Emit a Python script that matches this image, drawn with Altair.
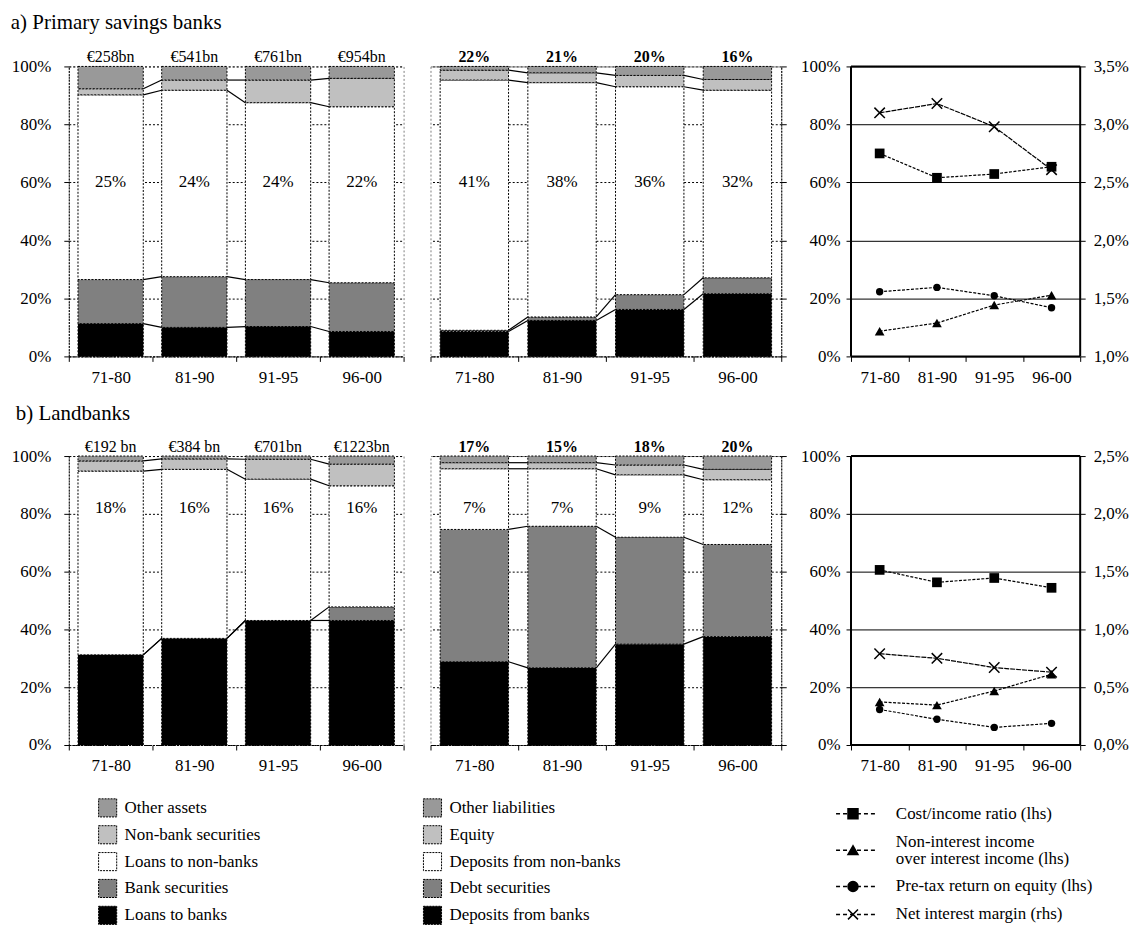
import altair as alt
import pandas as pd

periods = ["71-80", "81-90", "91-95", "96-00"]

asset_names = ["Loans to banks", "Bank securities", "Loans to non-banks", "Non-bank securities", "Other assets"]
liab_names = ["Deposits from banks", "Debt securities", "Deposits from non-banks", "Equity", "Other liabilities"]
segment_colors = ["#000000", "#808080", "#ffffff", "#c0c0c0", "#999999"]
ratio_names = ["Cost/income ratio (lhs)", "Non-interest income\nover interest income (lhs)",
               "Pre-tax return on equity (lhs)", "Net interest margin (rhs)"]

# a) Primary savings banks
a_loans_banks = [11.3, 10.0, 10.3, 8.6]
a_bank_sec = [15.2, 17.5, 16.2, 16.8]
a_loans_nonbanks = [63.7, 64.3, 61.0, 60.7]
a_nonbank_sec = [2.1, 3.5, 7.8, 9.8]
a_other_assets = [7.7, 4.7, 4.7, 4.1]
a_total_assets = ["€258bn", "€541bn", "€761bn", "€954bn"]
a_asset_share = ["25%", "24%", "24%", "22%"]

a_dep_banks = [8.6, 12.4, 16.2, 21.6]
a_debt_sec = [0.4, 1.2, 5.1, 5.5]
a_dep_nonbanks = [86.3, 80.8, 71.7, 64.7]
a_equity = [3.4, 3.4, 3.9, 3.7]
a_other_liab = [1.3, 2.2, 3.1, 4.5]
a_liab_top = ["22%", "21%", "20%", "16%"]
a_liab_share = ["41%", "38%", "36%", "32%"]

a_cost_income = [70.0, 61.6, 62.9, 65.4]
a_nonint_income = [8.7, 11.5, 17.7, 21.1]
a_pretax_roe = [22.3, 23.8, 20.9, 16.8]
a_net_int_margin = [3.10, 3.18, 2.98, 2.61]
a_rhs_ticks = [1.0, 1.5, 2.0, 2.5, 3.0, 3.5]

# b) Landbanks
b_loans_banks = [31.2, 36.9, 43.1, 43.1]
b_bank_sec = [0.0, 0.0, 0.0, 4.7]
b_loans_nonbanks = [63.6, 58.5, 48.9, 41.9]
b_nonbank_sec = [3.5, 3.6, 6.9, 7.5]
b_other_assets = [1.7, 1.0, 1.1, 2.8]
b_total_assets = ["€192 bn", "€384 bn", "€701bn", "€1223bn"]
b_asset_share = ["18%", "16%", "16%", "16%"]

b_dep_banks = [28.8, 26.7, 34.9, 37.5]
b_debt_sec = [45.8, 49.0, 37.0, 31.9]
b_dep_nonbanks = [21.0, 19.9, 21.6, 22.4]
b_equity = [2.1, 2.1, 3.4, 3.6]
b_other_liab = [2.3, 2.3, 3.1, 4.6]
b_liab_top = ["17%", "15%", "18%", "20%"]
b_liab_share = ["7%", "7%", "9%", "12%"]

b_cost_income = [60.6, 56.3, 57.8, 54.4]
b_nonint_income = [14.9, 13.8, 18.7, 24.5]
b_pretax_roe = [12.3, 8.9, 6.1, 7.5]
b_net_int_margin = [0.79, 0.75, 0.67, 0.63]
b_rhs_ticks = [0.0, 0.5, 1.0, 1.5, 2.0, 2.5]

SERIF = "Liberation Serif"
HALF = 0.39
N = len(periods)
XDOM = [-0.5, N - 0.5]
CATS_JS = "[" + ",".join("'%s'" % p for p in periods) + "]"
PCT = [0, 20, 40, 60, 80, 100]
XPATH = "M-1,-1L1,1M-1,1L1,-1"


def x_scale():
    return alt.Scale(domain=XDOM, nice=False, zero=False)


def x_axis(domain_line):
    kw = dict(values=[k / 2 - 0.5 for k in range(2 * N + 1)],
              labelExpr="datum.value % 1 === 0 ? " + CATS_JS + "[datum.value] : ''",
              tickOpacity={"condition": {"test": "datum.value % 1 === 0", "value": 0}, "value": 1},
              tickSize=5, tickColor="black", labelOverlap=False, labelFlush=False,
              labelPadding=8, title=None, grid=False, domain=domain_line)
    if domain_line:
        kw.update(domainColor="black", domainDash=[2, 1])
    return alt.Axis(**kw)


def bar_panel(parts, names, top_labels, share_labels, share_y, width, height, side, bold_top):
    rows = []
    for i in range(N):
        lo = 0.0
        for name, vals in zip(names, parts):
            hi = lo + vals[i]
            rows.append({"seg": name, "lo": lo, "hi": hi, "x0": i - HALF, "x1": i + HALF})
            lo = hi
    seg_df = pd.DataFrame(rows)
    conn = []
    for i in range(N - 1):
        ca = cb = 0.0
        for vals in parts[:-1]:
            ca += vals[i]
            cb += vals[i + 1]
            conn.append({"xa": i + HALF, "xb": i + 1 - HALF, "ya": ca, "yb": cb})
    conn_df = pd.DataFrame(conn)
    lab_df = pd.DataFrame({"idx": list(range(N)), "top": top_labels, "share": share_labels})

    xs = x_scale()
    ys = alt.Scale(domain=[0, 100], nice=False)
    if side == "left":
        y_axis = alt.Axis(values=PCT, labelExpr="datum.value + '%'", orient="left", tickSize=5,
                          labelPadding=13, grid=True, gridColor="black", gridDash=[2, 2],
                          domainColor="black", domainDash=[2, 1], title=None)
    else:
        y_axis = alt.Axis(values=PCT, labels=False, orient="right", tickSize=5,
                          grid=True, gridColor="black", gridDash=[2, 2],
                          domainColor="black", domainDash=[2, 1], title=None)
    xa = x_axis(True)
    bars = alt.Chart(seg_df).mark_rect(stroke="black", strokeWidth=1, strokeDash=[2, 1.5]).encode(
        x=alt.X("x0:Q", scale=xs, axis=xa), x2="x1",
        y=alt.Y("lo:Q", scale=ys, axis=y_axis), y2="hi",
        color=alt.Color("seg:N", scale=alt.Scale(domain=names, range=segment_colors), legend=None))
    conns = alt.Chart(conn_df).mark_rule(color="black", strokeWidth=1.2).encode(
        x=alt.X("xa:Q", scale=xs, axis=xa), x2="xb",
        y=alt.Y("ya:Q", scale=ys, axis=y_axis), y2="yb")
    top_t = alt.Chart(lab_df).mark_text(font=SERIF, fontSize=16, baseline="alphabetic", dy=-4,
                                        fontWeight="bold" if bold_top else "normal", color="black").encode(
        x=alt.X("idx:Q", scale=xs, axis=xa), y=alt.datum(100), text="top:N")
    share_t = alt.Chart(lab_df).mark_text(font=SERIF, fontSize=17, baseline="middle", color="black").encode(
        x=alt.X("idx:Q", scale=xs, axis=xa), y=alt.datum(share_y), text="share:N")
    return alt.layer(bars, conns, top_t, share_t).properties(width=width, height=height)


def line_panel(lhs_series, rhs_series, rhs_ticks, width, height):
    xs = x_scale()
    xa = x_axis(False)
    ys = alt.Scale(domain=[0, 100], nice=False)
    yr = alt.Scale(domain=[rhs_ticks[0], rhs_ticks[-1]], nice=False, zero=False)
    lhs_axis = alt.Axis(values=PCT, labelExpr="datum.value + '%'", orient="left", tickSize=5,
                        labelPadding=6, grid=True, gridColor="black", gridWidth=1, domain=False, title=None)
    rhs_axis = alt.Axis(values=rhs_ticks, labelExpr="replace(format(datum.value, '.1f'), '.', ',') + '%'",
                        orient="right", tickSize=5, labelPadding=8, grid=False, domain=False, title=None)
    shapes = ["square", "triangle-up", "circle"]
    sizes = [95, 95, 55]
    left_layers = []
    for vals, shp, sz in zip(lhs_series, shapes, sizes):
        df = pd.DataFrame({"idx": list(range(N)), "v": vals})
        base = alt.Chart(df).encode(x=alt.X("idx:Q", scale=xs, axis=xa),
                                    y=alt.Y("v:Q", scale=ys, axis=lhs_axis))
        left_layers.append(base.mark_line(color="black", strokeWidth=1.2, strokeDash=[3, 1.5]))
        left_layers.append(base.mark_point(shape=shp, size=sz, filled=True, color="black", opacity=1))
    left = alt.layer(*left_layers)
    dfr = pd.DataFrame({"idx": list(range(N)), "v": rhs_series})
    baser = alt.Chart(dfr).encode(x=alt.X("idx:Q", scale=xs, axis=xa),
                                  y=alt.Y("v:Q", scale=yr, axis=rhs_axis))
    right = alt.layer(
        baser.mark_line(color="black", strokeWidth=1.2, strokeDash=[5, 1]),
        baser.mark_point(shape=XPATH, size=110, filled=False, color="black", strokeWidth=1.5, opacity=1))
    return alt.layer(left, right).resolve_scale(y="independent").properties(
        width=width, height=height,
        view=alt.ViewBackground(stroke="black", strokeWidth=2, strokeDash=[1, 0]))


def legend_block(height):
    blocks = []
    for names, colors, x_sw, x_tx in [(asset_names[::-1], segment_colors[::-1], 39, 56),
                                      (liab_names[::-1], segment_colors[::-1], 365, 382)]:
        df = pd.DataFrame({"name": names})
        y = alt.Y("name:N", scale=alt.Scale(type="point", domain=names, padding=0.3), axis=None)
        sw = alt.Chart(df).mark_square(size=330, stroke="black", strokeWidth=1, strokeDash=[2, 1],
                                       opacity=1).encode(
            x=alt.value(x_sw), y=y,
            color=alt.Color("name:N", scale=alt.Scale(domain=names, range=colors), legend=None))
        tx = alt.Chart(df).mark_text(align="left", baseline="middle", font=SERIF, fontSize=17,
                                     color="black").encode(x=alt.value(x_tx), y=y, text="name:N")
        blocks.append(alt.layer(sw, tx))
    # vertical slots of the ratio legend follow the number of text lines of each entry
    line_h, gap, pos = 17, 11, 5.5
    centers, text_pos = [], []
    for nm in ratio_names:
        n_lines = nm.count("\n") + 1
        c = pos + n_lines * line_h / 2
        centers.append(c)
        text_pos.append(c - (n_lines - 1) * line_h / 2)
        pos += n_lines * line_h + gap
    dfr = pd.DataFrame({"name": ratio_names, "slot": centers, "tslot": text_pos})
    ysc = alt.Scale(domain=[0, height], reverse=True, nice=False, zero=False)
    yr = alt.Y("slot:Q", scale=ysc, axis=None)
    rl = alt.Chart(dfr).mark_rule(color="black", strokeDash=[4, 3], strokeWidth=1.5).encode(
        x=alt.value(770), x2=alt.value(810), y=yr)
    mk = alt.Chart(dfr).mark_point(filled=True, color="black", stroke="black", strokeWidth=1.5,
                                   size=100, opacity=1).encode(
        x=alt.value(787), y=yr,
        shape=alt.Shape("name:N", scale=alt.Scale(domain=ratio_names,
                                                   range=["square", "triangle-up", "circle", XPATH]),
                        legend=None))
    tx = alt.Chart(dfr).mark_text(align="left", baseline="middle", font=SERIF, fontSize=17,
                                  lineBreak="\n", lineHeight=line_h, color="black").encode(
        x=alt.value(830), y=alt.Y("tslot:Q", scale=ysc, axis=None), text="name:N")
    blocks.append(alt.layer(rl, mk, tx))
    return alt.layer(*blocks).resolve_scale(y="independent", color="independent", shape="independent").properties(
        width=900, height=height, view=alt.ViewBackground(stroke="transparent"))


pa1 = bar_panel([a_loans_banks, a_bank_sec, a_loans_nonbanks, a_nonbank_sec, a_other_assets],
                asset_names, a_total_assets, a_asset_share, 60, 336, 291, "left", False)
pa2 = bar_panel([a_dep_banks, a_debt_sec, a_dep_nonbanks, a_equity, a_other_liab],
                liab_names, a_liab_top, a_liab_share, 60, 352, 291, "right", True)
pa3 = line_panel([a_cost_income, a_nonint_income, a_pretax_roe], a_net_int_margin, a_rhs_ticks, 230, 291)

pb1 = bar_panel([b_loans_banks, b_bank_sec, b_loans_nonbanks, b_nonbank_sec, b_other_assets],
                asset_names, b_total_assets, b_asset_share, 82, 336, 290, "left", False)
pb2 = bar_panel([b_dep_banks, b_debt_sec, b_dep_nonbanks, b_equity, b_other_liab],
                liab_names, b_liab_top, b_liab_share, 82, 352, 290, "right", True)
pb3 = line_panel([b_cost_income, b_nonint_income, b_pretax_roe], b_net_int_margin, b_rhs_ticks, 230, 290)

row_a = alt.hconcat(alt.hconcat(pa1, pa2, spacing=25), pa3, spacing=12,
                    title=alt.Title("a) Primary savings banks", anchor="start", font=SERIF, fontSize=21,
                                    fontWeight="normal", color="black", offset=16))
row_b = alt.hconcat(alt.hconcat(pb1, pb2, spacing=25), pb3, spacing=12,
                    title=alt.Title("b) Landbanks", anchor="start", font=SERIF, fontSize=21,
                                    fontWeight="normal", color="black", offset=15, dx=5))

chart = alt.vconcat(alt.vconcat(row_a, row_b, spacing=16), legend_block(124), spacing=21).properties(
    padding={"left": 2, "top": 2, "right": 2, "bottom": 0}
).configure_axis(
    labelFont=SERIF, labelFontSize=17, labelColor="black", tickColor="black"
).configure_view(
    stroke="#808080", strokeDash=[2, 2], strokeWidth=1
)

chart.save("out.html", embed_options={"renderer": "svg", "actions": False})
